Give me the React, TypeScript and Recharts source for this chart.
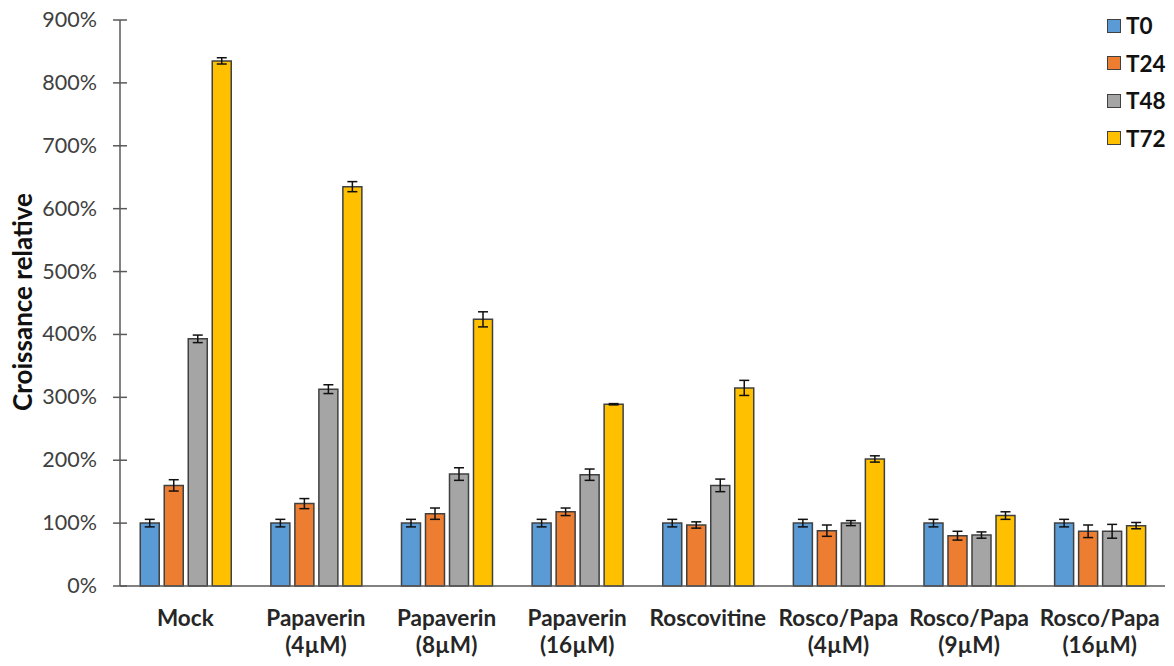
import React from "react";
import { BarChart, Bar, XAxis, YAxis, ErrorBar, Label } from "recharts";

const categories = [
  "Mock",
  "Papaverin\n(4µM)",
  "Papaverin\n(8µM)",
  "Papaverin\n(16µM)",
  "Roscovitine",
  "Rosco/Papa\n(4µM)",
  "Rosco/Papa\n(9µM)",
  "Rosco/Papa\n(16µM)",
];
const t0 = [100, 100, 100, 100, 100, 100, 100, 100];
const t0Err = [6, 6, 6, 6, 6, 6, 6, 6];
const t24 = [160, 131, 115, 118, 97, 88, 80, 87];
const t24Err = [9, 8, 9, 6, 5, 9, 7, 10];
const t48 = [393, 313, 178, 177, 160, 100, 81, 87];
const t48Err = [6, 7, 10, 9, 10, 4, 5, 11];
const t72 = [835, 635, 424, 289, 315, 202, 112, 96];
const t72Err = [5, 8, 12, 1, 12, 5, 6, 5];
const yTicks = [0, 100, 200, 300, 400, 500, 600, 700, 800, 900];

const seriesNames = ["T0", "T24", "T48", "T72"];
const colors = ["#5B9BD5", "#ED7D31", "#A5A5A5", "#FFC000"];

const data = categories.map((c, i) => ({
  name: c,
  T0: t0[i],
  T0e: t0Err[i],
  T24: t24[i],
  T24e: t24Err[i],
  T48: t48[i],
  T48e: t48Err[i],
  T72: t72[i],
  T72e: t72Err[i],
}));

const FONT = "Lato, 'Open Sans', sans-serif";

const YTick = (props: any) => {
  const { x, y, payload } = props;
  return (
    <g>
      <line x1={x - 7} x2={x + 7} y1={y} y2={y} stroke="#595959" strokeWidth={1.5} />
      <text x={x - 23} y={y} dy={7} textAnchor="end" fontFamily={FONT} fontSize={21.5} fill="#404040">
        {payload.value}%
      </text>
    </g>
  );
};

const XTick = (props: any) => {
  const { x, y, payload } = props;
  const lines = String(payload.value).split("\n");
  return (
    <g>
      {lines.map((l, i) => (
        <text key={i} x={x} y={y + 40 + i * 27} textAnchor="middle" fontFamily={FONT} fontSize={22.5} fontWeight="bold" fill="#262626">
          {l}
        </text>
      ))}
    </g>
  );
};

const YTitle = () => (
  <text
    x={22}
    y={302}
    transform="rotate(-90, 22, 302)"
    textAnchor="middle"
    dominantBaseline="central"
    fontFamily={FONT}
    fontSize={26}
    fontWeight="bold"
    fill="#111"
  >
    Croissance relative
  </text>
);

export default function App() {
  return (
    <div style={{ position: "absolute", left: 0, top: 0, width: 1174, height: 666, background: "#fff" }}>
      <BarChart
        width={1174}
        height={666}
        data={data}
        margin={{ top: 20, right: 9, bottom: 10, left: 0 }}
        barCategoryGap="15.5%"
        barGap={5}
      >
        <XAxis
          dataKey="name"
          height={70}
          tickSize={0}
          tickMargin={0}
          tickLine={false}
          interval={0}
          tick={<XTick />}
          axisLine={{ stroke: "#595959", strokeWidth: 1.5 }}
        />
        <YAxis
          width={120}
          domain={[0, 900]}
          ticks={yTicks}
          tickSize={0}
          tickMargin={0}
          tickLine={false}
          interval={0}
          tick={<YTick />}
          axisLine={{ stroke: "#595959", strokeWidth: 1.5 }}
        >
          <Label content={<YTitle />} />
        </YAxis>
        {seriesNames.map((n, i) => (
          <Bar key={n} dataKey={n} fill={colors[i]} stroke="#404040" strokeWidth={1.5} isAnimationActive={false}>
            <ErrorBar dataKey={`${n}e`} width={5} stroke="#111" strokeWidth={1.5} />
          </Bar>
        ))}
      </BarChart>
      <div style={{ position: "absolute", left: 1107, top: 7, fontFamily: FONT }}>
        {seriesNames.map((n, i) => (
          <div key={n} style={{ display: "flex", alignItems: "center", height: 37.5 }}>
            <div style={{ width: 12, height: 12, background: colors[i], border: "1.5px solid #404040", marginRight: 5 }} />
            <span style={{ fontSize: 22.5, fontWeight: "bold", color: "#111" }}>{n}</span>
          </div>
        ))}
      </div>
    </div>
  );
}
